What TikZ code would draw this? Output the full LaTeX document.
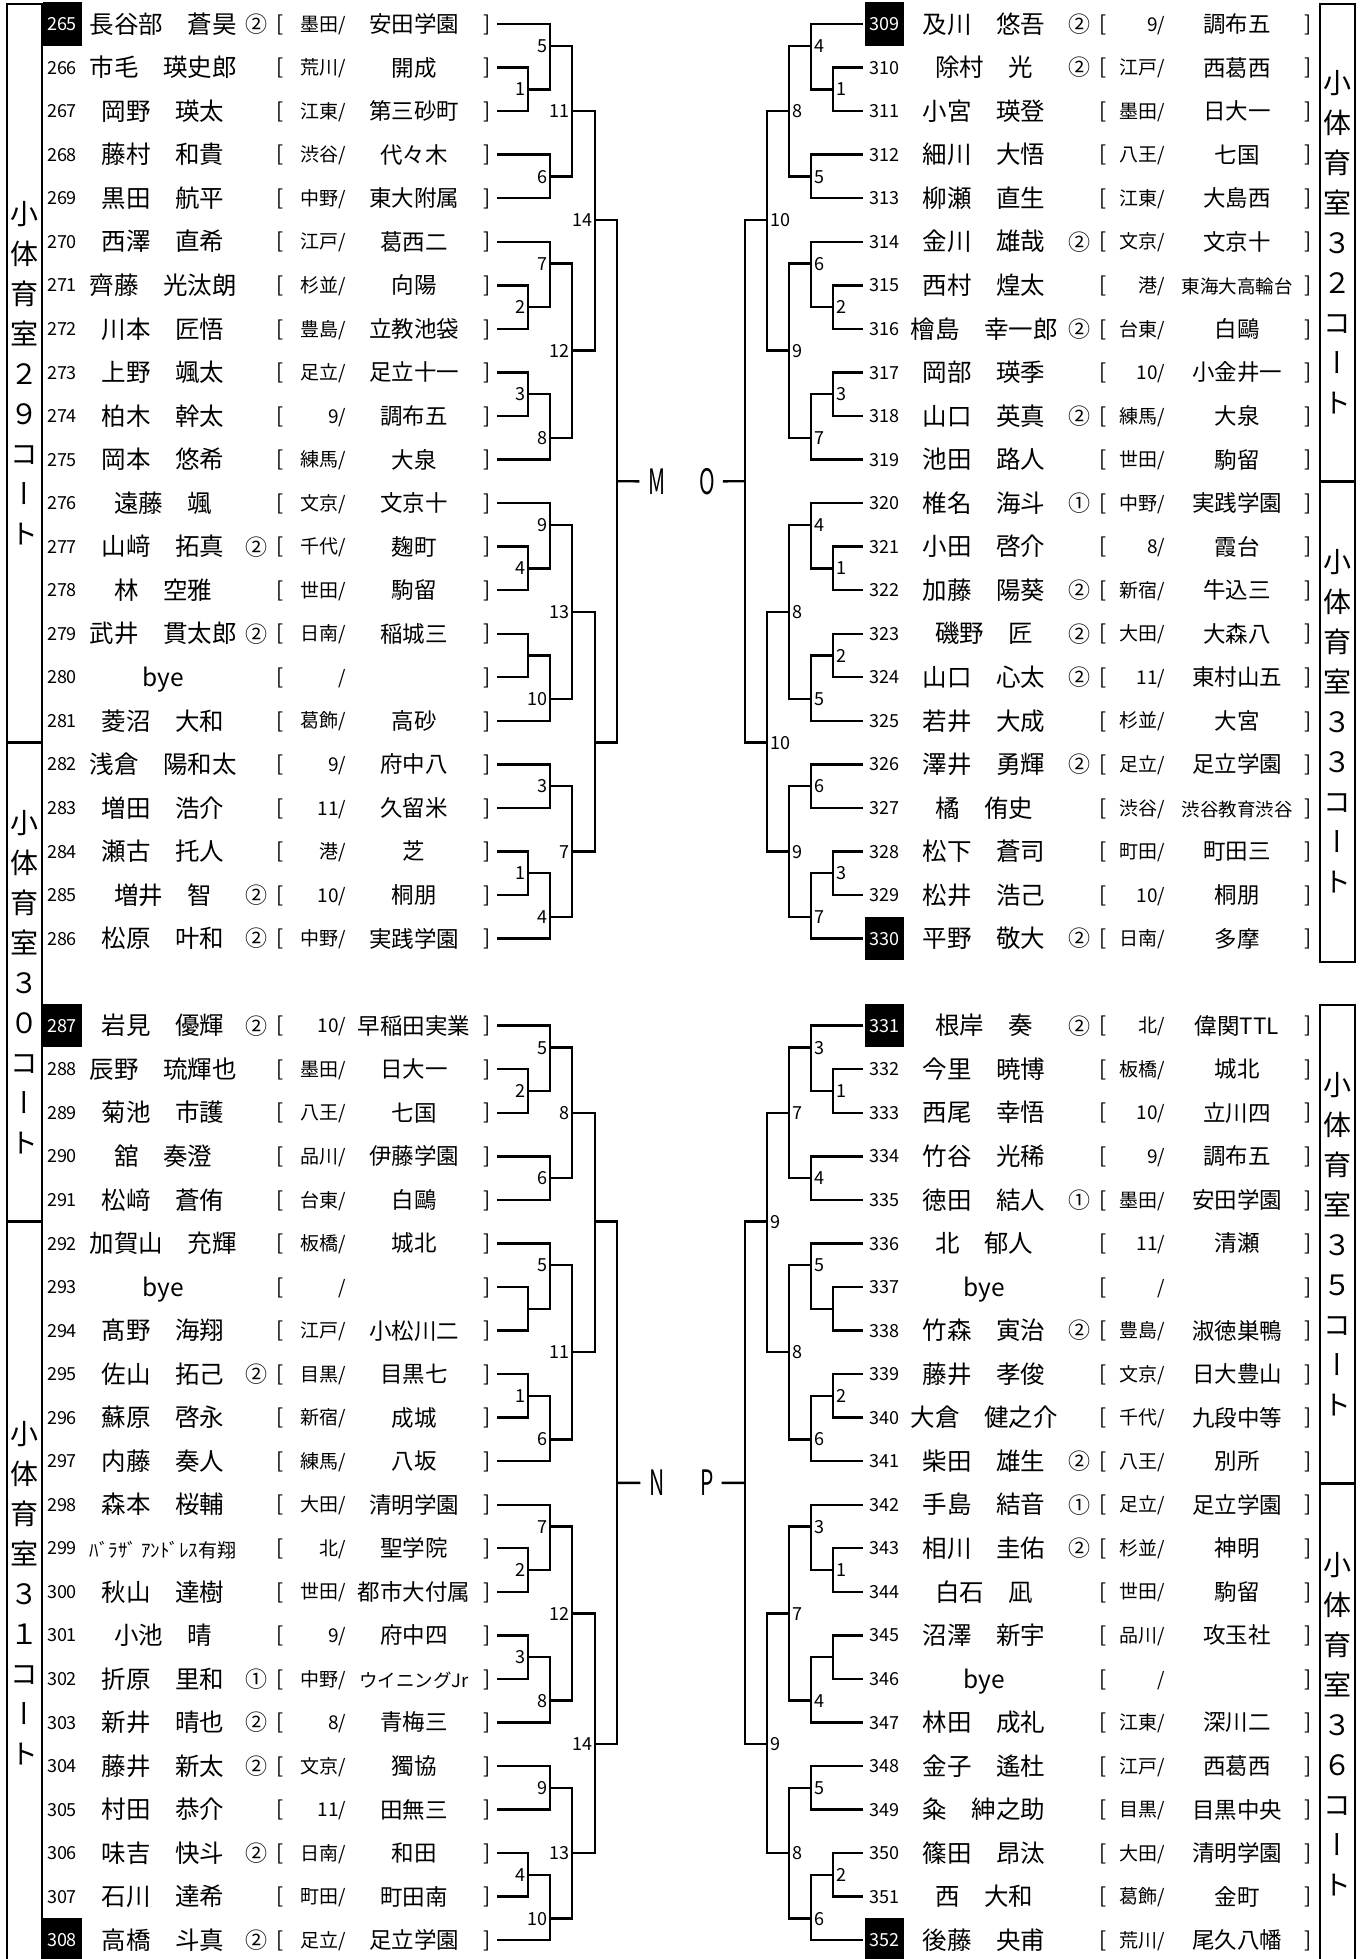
\documentclass[tikz,border=0pt]{standalone}
\usepackage{fontspec}
\usepackage{graphicx}
\newfontfamily\jp{Noto Sans CJK JP}
\newfontfamily\vjp[RawFeature=+vert]{Noto Sans CJK JP}
\usetikzlibrary{calc}
\tikzset{
  ln/.style={line width=2.4pt},
  tx/.style={inner sep=0pt, outer sep=0pt},
  num/.style={tx, font=\jp\fontsize{18}{20}\selectfont, text height=13.2pt, text depth=0pt},
  blk/.style={num, fill=black, text=white, minimum width=39pt, minimum height=43.5pt},
  nm/.style={tx, font=\jp\fontsize{24.5}{26}\selectfont, text height=21pt, text depth=2.6pt},
  sd/.style={tx, font=\jp\fontsize{22}{24}\selectfont, text height=19pt, text depth=2.2pt},
  brk/.style={tx, font=\jp\fontsize{21}{24}\selectfont, text height=17pt, text depth=2.6pt},
  rg/.style={tx, font=\jp\fontsize{19}{21}\selectfont, text height=16.3pt, text depth=2pt, anchor=east},
  sc/.style={tx, font=\jp\fontsize{22.5}{24}\selectfont, text height=19.4pt, text depth=2.4pt},
  court/.style={draw, line width=2.4pt, minimum width=35pt, inner sep=0pt, align=center, font=\vjp\fontsize{28}{40}\selectfont},
  big/.style={tx, font=\jp\fontsize{35}{36}\selectfont, text height=25.7pt, text depth=0pt},
}
\newcommand\lrow[7]{%
  \pgfmathsetmacro\ry{24+43.55*#1}
  \node[#7] (n#2) at (62,\ry) {#2};
  \node[nm] (nm#2) at (163,\ry) {#3};
  \if\relax\detokenize{#4}\relax\else\node[sd] (sd#2) at (256,\ry) {#4};\fi
  \node[brk] (lb#2) at (280,\ry) {[};
  \node[rg] (rg#2) at (346,\ry) {#5/};
  \if\relax\detokenize{#6}\relax\else\node[sc] (sc#2) at (414,\ry) {#6};\fi
  \node[brk] (rb#2) at (487,\ry) {]};
  \coordinate (L#2) at (497,\ry);
}
\newcommand\rrow[7]{%
  \pgfmathsetmacro\ry{24+43.55*#1}
  \node[#7] (n#2) at (884.5,\ry) {#2};
  \node[nm] (nm#2) at (984,\ry) {#3};
  \if\relax\detokenize{#4}\relax\else\node[sd] (sd#2) at (1079,\ry) {#4};\fi
  \node[brk] (lb#2) at (1103,\ry) {[};
  \node[rg] (rg#2) at (1165,\ry) {#5/};
  \if\relax\detokenize{#6}\relax\else\node[sc] (sc#2) at (1237,\ry) {#6};\fi
  \node[brk] (rb#2) at (1308,\ry) {]};
  \coordinate (R#2) at (863,\ry);
}
\newcommand\matchL[6]{%
  \draw[ln] (#1) -- (#1 -| #3) -- (#2 -| #3) -- (#2);
  \pgfmathsetmacro\my{24+43.55*#4}
  \coordinate (#5) at ($(#3)+(0,\my)$);
  \if\relax\detokenize{#6}\relax\else\node[num,anchor=east] (t#5) at ($(#5)+(-3,0)$) {#6};\fi
}
\newcommand\matchR[6]{%
  \draw[ln] (#1) -- (#1 -| #3) -- (#2 -| #3) -- (#2);
  \pgfmathsetmacro\my{24+43.55*#4}
  \coordinate (#5) at ($(#3)+(0,\my)$);
  \if\relax\detokenize{#6}\relax\else\node[num,anchor=west] (t#5) at ($(#5)+(3,0)$) {#6};\fi
}
\newcommand\ssc[1]{{\fontsize{18.5}{20}\selectfont #1}}
\begin{document}
\begin{tikzpicture}[x=1pt,y=-1pt]
\useasboundingbox (0,0) rectangle (1365,1959);
\fill[white] (0,0) rectangle (1365,1959);
% level coordinates
\coordinate (LL1) at (528,0);
\coordinate (LL2) at (550,0);
\coordinate (LL3) at (572,0);
\coordinate (LL4) at (595,0);
\coordinate (LL5) at (617,0);
\coordinate (RR1) at (833,0);
\coordinate (RR2) at (811,0);
\coordinate (RR3) at (789,0);
\coordinate (RR4) at (767,0);
\coordinate (RR5) at (745,0);
% court boxes
\node[court, minimum height=738.6pt] (c29) at (24.5,373.3) {小\\体\\育\\室\\２\\９\\コ\\ー\\ト};
\node[court, minimum height=479pt] (c30) at (24.5,982.1) {小\\体\\育\\室\\３\\０\\コ\\ー\\ト};
\node[court, minimum height=743.4pt] (c31) at (24.5,1593.3) {小\\体\\育\\室\\３\\１\\コ\\ー\\ト};
\node[court, minimum height=477.3pt] (c32) at (1337.5,242.65) {小\\体\\育\\室\\３\\２\\コ\\ー\\ト};
\node[court, minimum height=480.7pt] (c33) at (1337.5,721.65) {小\\体\\育\\室\\３\\３\\コ\\ー\\ト};
\node[court, minimum height=478.4pt] (c35) at (1337.5,1244.2) {小\\体\\育\\室\\３\\５\\コ\\ー\\ト};
\node[court, minimum height=481.6pt] (c36) at (1337.5,1724.2) {小\\体\\育\\室\\３\\６\\コ\\ー\\ト};
% left rows
\lrow{0}{265}{長谷部　蒼昊}{②}{墨田}{安田学園}{blk}
\lrow{1}{266}{市毛　瑛史郎}{}{荒川}{開成}{num}
\lrow{2}{267}{岡野　瑛太}{}{江東}{第三砂町}{num}
\lrow{3}{268}{藤村　和貴}{}{渋谷}{代々木}{num}
\lrow{4}{269}{黒田　航平}{}{中野}{東大附属}{num}
\lrow{5}{270}{西澤　直希}{}{江戸}{葛西二}{num}
\lrow{6}{271}{齊藤　光汰朗}{}{杉並}{向陽}{num}
\lrow{7}{272}{川本　匠悟}{}{豊島}{立教池袋}{num}
\lrow{8}{273}{上野　颯太}{}{足立}{足立十一}{num}
\lrow{9}{274}{柏木　幹太}{}{9}{調布五}{num}
\lrow{10}{275}{岡本　悠希}{}{練馬}{大泉}{num}
\lrow{11}{276}{遠藤　颯}{}{文京}{文京十}{num}
\lrow{12}{277}{山﨑　拓真}{②}{千代}{麹町}{num}
\lrow{13}{278}{林　空雅}{}{世田}{駒留}{num}
\lrow{14}{279}{武井　貫太郎}{②}{日南}{稲城三}{num}
\lrow{15}{280}{bye}{}{}{}{num}
\lrow{16}{281}{菱沼　大和}{}{葛飾}{高砂}{num}
\lrow{17}{282}{浅倉　陽和太}{}{9}{府中八}{num}
\lrow{18}{283}{増田　浩介}{}{11}{久留米}{num}
\lrow{19}{284}{瀬古　托人}{}{港}{芝}{num}
\lrow{20}{285}{増井　智}{②}{10}{桐朋}{num}
\lrow{21}{286}{松原　叶和}{②}{中野}{実践学園}{num}
\lrow{23}{287}{岩見　優輝}{②}{10}{早稲田実業}{blk}
\lrow{24}{288}{辰野　琉輝也}{}{墨田}{日大一}{num}
\lrow{25}{289}{菊池　市護}{}{八王}{七国}{num}
\lrow{26}{290}{舘　奏澄}{}{品川}{伊藤学園}{num}
\lrow{27}{291}{松﨑　蒼侑}{}{台東}{白鷗}{num}
\lrow{28}{292}{加賀山　充輝}{}{板橋}{城北}{num}
\lrow{29}{293}{bye}{}{}{}{num}
\lrow{30}{294}{髙野　海翔}{}{江戸}{小松川二}{num}
\lrow{31}{295}{佐山　拓己}{②}{目黒}{目黒七}{num}
\lrow{32}{296}{蘇原　啓永}{}{新宿}{成城}{num}
\lrow{33}{297}{内藤　奏人}{}{練馬}{八坂}{num}
\lrow{34}{298}{森本　桜輔}{}{大田}{清明学園}{num}
\lrow{35}{299}{{\fontsize{19}{20}\selectfont ﾊﾞﾗｻﾞ ｱﾝﾄﾞﾚｽ有翔}}{}{北}{聖学院}{num}
\lrow{36}{300}{秋山　達樹}{}{世田}{都市大付属}{num}
\lrow{37}{301}{小池　晴}{}{9}{府中四}{num}
\lrow{38}{302}{折原　里和}{①}{中野}{\ssc{ウイニングJr}}{num}
\lrow{39}{303}{新井　晴也}{②}{8}{青梅三}{num}
\lrow{40}{304}{藤井　新太}{②}{文京}{獨協}{num}
\lrow{41}{305}{村田　恭介}{}{11}{田無三}{num}
\lrow{42}{306}{味吉　快斗}{②}{日南}{和田}{num}
\lrow{43}{307}{石川　達希}{}{町田}{町田南}{num}
\lrow{44}{308}{高橋　斗真}{②}{足立}{足立学園}{blk}
% right rows
\rrow{0}{309}{及川　悠吾}{②}{9}{調布五}{blk}
\rrow{1}{310}{除村　光}{②}{江戸}{西葛西}{num}
\rrow{2}{311}{小宮　瑛登}{}{墨田}{日大一}{num}
\rrow{3}{312}{細川　大悟}{}{八王}{七国}{num}
\rrow{4}{313}{柳瀬　直生}{}{江東}{大島西}{num}
\rrow{5}{314}{金川　雄哉}{②}{文京}{文京十}{num}
\rrow{6}{315}{西村　煌太}{}{港}{\ssc{東海大高輪台}}{num}
\rrow{7}{316}{檜島　幸一郎}{②}{台東}{白鷗}{num}
\rrow{8}{317}{岡部　瑛季}{}{10}{小金井一}{num}
\rrow{9}{318}{山口　英真}{②}{練馬}{大泉}{num}
\rrow{10}{319}{池田　路人}{}{世田}{駒留}{num}
\rrow{11}{320}{椎名　海斗}{①}{中野}{実践学園}{num}
\rrow{12}{321}{小田　啓介}{}{8}{霞台}{num}
\rrow{13}{322}{加藤　陽葵}{②}{新宿}{牛込三}{num}
\rrow{14}{323}{磯野　匠}{②}{大田}{大森八}{num}
\rrow{15}{324}{山口　心太}{②}{11}{東村山五}{num}
\rrow{16}{325}{若井　大成}{}{杉並}{大宮}{num}
\rrow{17}{326}{澤井　勇輝}{②}{足立}{足立学園}{num}
\rrow{18}{327}{橘　侑史}{}{渋谷}{\ssc{渋谷教育渋谷}}{num}
\rrow{19}{328}{松下　蒼司}{}{町田}{町田三}{num}
\rrow{20}{329}{松井　浩己}{}{10}{桐朋}{num}
\rrow{21}{330}{平野　敬大}{②}{日南}{多摩}{blk}
\rrow{23}{331}{根岸　奏}{②}{北}{偉関TTL}{blk}
\rrow{24}{332}{今里　暁博}{}{板橋}{城北}{num}
\rrow{25}{333}{西尾　幸悟}{}{10}{立川四}{num}
\rrow{26}{334}{竹谷　光稀}{}{9}{調布五}{num}
\rrow{27}{335}{徳田　結人}{①}{墨田}{安田学園}{num}
\rrow{28}{336}{北　郁人}{}{11}{清瀬}{num}
\rrow{29}{337}{bye}{}{}{}{num}
\rrow{30}{338}{竹森　寅治}{②}{豊島}{淑徳巣鴨}{num}
\rrow{31}{339}{藤井　孝俊}{}{文京}{日大豊山}{num}
\rrow{32}{340}{大倉　健之介}{}{千代}{九段中等}{num}
\rrow{33}{341}{柴田　雄生}{②}{八王}{別所}{num}
\rrow{34}{342}{手島　結音}{①}{足立}{足立学園}{num}
\rrow{35}{343}{相川　圭佑}{②}{杉並}{神明}{num}
\rrow{36}{344}{白石　凪}{}{世田}{駒留}{num}
\rrow{37}{345}{沼澤　新宇}{}{品川}{攻玉社}{num}
\rrow{38}{346}{bye}{}{}{}{num}
\rrow{39}{347}{林田　成礼}{}{江東}{深川二}{num}
\rrow{40}{348}{金子　遙杜}{}{江戸}{西葛西}{num}
\rrow{41}{349}{粂　紳之助}{}{目黒}{目黒中央}{num}
\rrow{42}{350}{篠田　昂汰}{}{大田}{清明学園}{num}
\rrow{43}{351}{西　大和}{}{葛飾}{金町}{num}
\rrow{44}{352}{後藤　央甫}{}{荒川}{尾久八幡}{blk}
% left brackets, top
\matchL{L266}{L267}{LL1}{1.5}{a1}{1}
\matchL{L265}{a1}{LL2}{0.5}{a5}{5}
\matchL{L268}{L269}{LL2}{3.5}{a6}{6}
\matchL{a5}{a6}{LL3}{2}{a11}{11}
\matchL{L271}{L272}{LL1}{6.5}{a2}{2}
\matchL{L270}{a2}{LL2}{5.5}{a7}{7}
\matchL{L273}{L274}{LL1}{8.5}{a3}{3}
\matchL{a3}{L275}{LL2}{9.5}{a8}{8}
\matchL{a7}{a8}{LL3}{7.5}{a12}{12}
\matchL{a11}{a12}{LL4}{4.5}{a14}{14}
\matchL{L277}{L278}{LL1}{12.5}{b4}{4}
\matchL{L276}{b4}{LL2}{11.5}{b9}{9}
\matchL{L279}{L280}{LL1}{14.5}{bby}{}
\matchL{bby}{L281}{LL2}{15.5}{b10}{10}
\matchL{b9}{b10}{LL3}{13.5}{b13}{13}
\matchL{L282}{L283}{LL2}{17.5}{b3}{3}
\matchL{L284}{L285}{LL1}{19.5}{b1}{1}
\matchL{b1}{L286}{LL2}{20.5}{b4b}{4}
\matchL{b3}{b4b}{LL3}{19}{b7}{7}
\matchL{b13}{b7}{LL4}{16.5}{b15}{}
\matchL{a14}{b15}{LL5}{10.5}{fM}{}
% left brackets, bottom
\matchL{L288}{L289}{LL1}{24.5}{c2}{2}
\matchL{L287}{c2}{LL2}{23.5}{c5}{5}
\matchL{L290}{L291}{LL2}{26.5}{c6}{6}
\matchL{c5}{c6}{LL3}{25}{c8}{8}
\matchL{L293}{L294}{LL1}{29.5}{cby}{}
\matchL{L292}{cby}{LL2}{28.5}{c5b}{5}
\matchL{L295}{L296}{LL1}{31.5}{c1}{1}
\matchL{c1}{L297}{LL2}{32.5}{c6b}{6}
\matchL{c5b}{c6b}{LL3}{30.5}{c11}{11}
\matchL{c8}{c11}{LL4}{27.5}{c15}{}
\matchL{L299}{L300}{LL1}{35.5}{d2}{2}
\matchL{L298}{d2}{LL2}{34.5}{d7}{7}
\matchL{L301}{L302}{LL1}{37.5}{d3}{3}
\matchL{d3}{L303}{LL2}{38.5}{d8}{8}
\matchL{d7}{d8}{LL3}{36.5}{d12}{12}
\matchL{L304}{L305}{LL2}{40.5}{d9}{9}
\matchL{L306}{L307}{LL1}{42.5}{d4}{4}
\matchL{d4}{L308}{LL2}{43.5}{d10}{10}
\matchL{d9}{d10}{LL3}{42}{d13}{13}
\matchL{d12}{d13}{LL4}{39.5}{d14}{14}
\matchL{c15}{d14}{LL5}{33.5}{fN}{}
% right brackets, top
\matchR{R310}{R311}{RR1}{1.5}{e1}{1}
\matchR{R309}{e1}{RR2}{0.5}{e4}{4}
\matchR{R312}{R313}{RR2}{3.5}{e5}{5}
\matchR{e4}{e5}{RR3}{2}{e8}{8}
\matchR{R315}{R316}{RR1}{6.5}{e2}{2}
\matchR{R314}{e2}{RR2}{5.5}{e6}{6}
\matchR{R317}{R318}{RR1}{8.5}{e3}{3}
\matchR{e3}{R319}{RR2}{9.5}{e7}{7}
\matchR{e6}{e7}{RR3}{7.5}{e9}{9}
\matchR{e8}{e9}{RR4}{4.5}{e10}{10}
\matchR{R321}{R322}{RR1}{12.5}{f1}{1}
\matchR{R320}{f1}{RR2}{11.5}{f4}{4}
\matchR{R323}{R324}{RR1}{14.5}{f2}{2}
\matchR{f2}{R325}{RR2}{15.5}{f5}{5}
\matchR{f4}{f5}{RR3}{13.5}{f8}{8}
\matchR{R326}{R327}{RR2}{17.5}{f6}{6}
\matchR{R328}{R329}{RR1}{19.5}{f3}{3}
\matchR{f3}{R330}{RR2}{20.5}{f7}{7}
\matchR{f6}{f7}{RR3}{19}{f9}{9}
\matchR{f8}{f9}{RR4}{16.5}{f10}{10}
\matchR{e10}{f10}{RR5}{10.5}{fO}{}
% right brackets, bottom
\matchR{R332}{R333}{RR1}{24.5}{g1}{1}
\matchR{R331}{g1}{RR2}{23.5}{g3}{3}
\matchR{R334}{R335}{RR2}{26.5}{g4}{4}
\matchR{g3}{g4}{RR3}{25}{g7}{7}
\matchR{R337}{R338}{RR1}{29.5}{gby}{}
\matchR{R336}{gby}{RR2}{28.5}{g5}{5}
\matchR{R339}{R340}{RR1}{31.5}{g2}{2}
\matchR{g2}{R341}{RR2}{32.5}{g6}{6}
\matchR{g5}{g6}{RR3}{30.5}{g8}{8}
\matchR{g7}{g8}{RR4}{27.5}{g9}{9}
\matchR{R343}{R344}{RR1}{35.5}{h1}{1}
\matchR{R342}{h1}{RR2}{34.5}{h3}{3}
\matchR{R345}{R346}{RR1}{37.5}{hby}{}
\matchR{hby}{R347}{RR2}{38.5}{h4}{4}
\matchR{h3}{h4}{RR3}{36.5}{h7}{7}
\matchR{R348}{R349}{RR2}{40.5}{h5}{5}
\matchR{R350}{R351}{RR1}{42.5}{h2}{2}
\matchR{h2}{R352}{RR2}{43.5}{h6}{6}
\matchR{h5}{h6}{RR3}{42}{h8}{8}
\matchR{h7}{h8}{RR4}{39.5}{h9}{9}
\matchR{g9}{h9}{RR5}{33.5}{fP}{}
% final labels
\node[big] (nM) at (657,481.3) {\scalebox{0.6}[1]{M}};
\node[big] (nO) at (707,481.3) {\scalebox{0.6}[1]{O}};
\node[big] (nN) at (657,1482.9) {\scalebox{0.6}[1]{N}};
\node[big] (nP) at (707,1482.9) {\scalebox{0.6}[1]{P}};
\draw[ln] (fM) -- ([xshift=-9pt]nM.west);
\draw[ln] (fO) -- ([xshift=8pt]nO.east);
\draw[ln] (fN) -- ([xshift=-9pt]nN.west);
\draw[ln] (fP) -- ([xshift=8pt]nP.east);
\end{tikzpicture}
\end{document}
